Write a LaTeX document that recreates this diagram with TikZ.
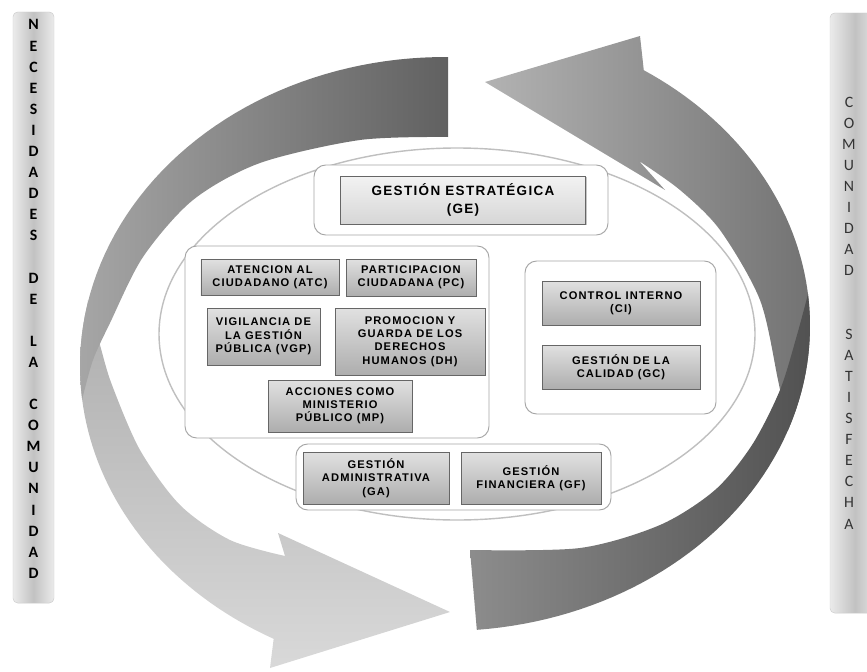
\documentclass[tikz,border=0pt]{standalone}
\usepackage{fontspec}
\usepackage{xcolor}
\usepackage{tikz}
\usetikzlibrary{shadows}

\newfontfamily\boxfont{Liberation Sans}[LetterSpace=10]
\newfontfamily\barfont{Carlito}

\begin{document}
\begin{tikzpicture}[x=0.03cm,y=-0.03cm]

\useasboundingbox (0,0) rectangle (867,672);
\clip (0,0) rectangle (867,672);

% \draw[step=50,gray,very thin] (0,0) grid (867,672);

\tikzstyle{barbox} = [rectangle, rounded corners=4pt, draw=black!20, left color=black!8, right color=black!8, middle color=black!24]
\tikzstyle{bartext} = [align=center, inner sep=0pt, font=\barfont\fontsize{13.5}{18}\selectfont]
\tikzstyle{groupbox} = [rectangle, rounded corners=10pt, draw=black!35, fill=white, thick]
\tikzstyle{unitbox} = [rectangle, draw=black!60, top color=black!12, bottom color=black!32, drop shadow={shadow xshift=1.2pt,shadow yshift=-1.2pt,opacity=0.45}, align=center, inner sep=1pt, font=\boxfont\bfseries\fontsize{9.5}{11.3}\selectfont]

% left arrow: front face with head, then back face
\path[top color=black!32, bottom color=black!15]
  plot[domain=192:118,samples=50] ({445+365*cos(\x)},{366+309*sin(\x)})
  -- (270,668) -- (450,612) -- (278,533)
  -- plot[smooth] coordinates {(285,556) (230,540) (180,505) (140,450) (112,385) (100,345) (88,300)}
  -- cycle;
\path[left color=black!35, right color=black!62]
  plot[domain=270.5:173.7,samples=50] ({445+365*cos(\x)},{366+309*sin(\x)})
  -- plot[smooth] coordinates {(82,400) (93,360) (110,323) (143,257) (193,200) (260,163) (360,140) (448,137)}
  -- cycle;

% right arrow: front face with head, then back face
\path[left color=black!30, right color=black!55]
  plot[domain=20:-57,samples=50] ({445+365*cos(\x)},{326+305*sin(\x)})
  -- (640,36) -- (485,82) -- (665,190)
  -- plot[smooth] coordinates {(639,161) (680,190) (720,230) (760,300) (778,380) (788,430)}
  -- cycle;
\path[left color=black!45, right color=black!68]
  plot[domain=85:-6,samples=50] ({445+365*cos(\x)},{326+305*sin(\x)})
  -- plot[smooth] coordinates {(808,294) (797,335) (780,390) (752,445) (715,490) (660,525) (580,548) (470,550)}
  -- cycle;

\draw[draw=black!25, fill=white, line width=1.2pt] (457,334) ellipse [x radius=298, y radius=186];

% groups
\node (geg) [groupbox, minimum width=8.82cm, minimum height=2.1cm] at (461,200) {};
\node (lgrp) [groupbox, minimum width=9.12cm, minimum height=5.76cm] at (337,342) {};
\node (rgrp) [groupbox, minimum width=5.73cm, minimum height=4.59cm] at (620.5,337.5) {};
\node (bgrp) [groupbox, minimum width=9.45cm, minimum height=1.98cm] at (453.5,477) {};

% units
\node (ge) [unitbox, top color=black!5, bottom color=black!16, minimum width=7.35cm, minimum height=1.44cm, font=\boxfont\bfseries\fontsize{11.5}{15.5}\selectfont] at (463,200) {GESTIÓN ESTRATÉGICA\\(GE)};
\node (atc) [unitbox, minimum width=4.14cm, minimum height=1.08cm] at (270,277) {ATENCION AL\\CIUDADANO (ATC)};
\node (pc) [unitbox, minimum width=3.9cm, minimum height=1.11cm] at (411,277.5) {PARTICIPACION\\CIUDADANA (PC)};
\node (vgp) [unitbox, minimum width=3.39cm, minimum height=1.71cm] at (263.5,336.5) {VIGILANCIA DE\\LA GESTIÓN\\PÚBLICA (VGP)};
\node (dh) [unitbox, minimum width=4.5cm, minimum height=2.01cm] at (410,341.5) {PROMOCION Y\\GUARDA DE LOS\\DERECHOS\\HUMANOS (DH)};
\node (mp) [unitbox, minimum width=4.32cm, minimum height=1.56cm] at (340,406) {ACCIONES COMO\\MINISTERIO\\PÚBLICO (MP)};
\node (ci) [unitbox, minimum width=4.74cm, minimum height=1.32cm] at (621,303) {CONTROL INTERNO\\(CI)};
\node (gc) [unitbox, minimum width=4.74cm, minimum height=1.32cm] at (621,367) {GESTIÓN DE LA\\CALIDAD (GC)};
\node (ga) [unitbox, minimum width=4.38cm, minimum height=1.56cm] at (376,478) {GESTIÓN\\ADMINISTRATIVA\\(GA)};
\node (gf) [unitbox, minimum width=4.2cm, minimum height=1.56cm] at (531,478) {GESTIÓN\\FINANCIERA (GF)};

% side bars
\node (lbar) [barbox, minimum width=1.23cm, minimum height=17.73cm] at (33.5,307.5) {};
\node (ltext) [bartext, font=\barfont\bfseries\fontsize{13.5}{18}\selectfont] at (33.5,299) {N\\E\\C\\E\\S\\I\\D\\A\\D\\E\\S\\[18pt]D\\E\\[18pt]L\\A\\[18pt]C\\O\\M\\U\\N\\I\\D\\A\\D};
\node (rbar) [barbox, minimum width=1.5cm, minimum height=18cm] at (855,313) {};
\node (rtext) [bartext, text=black!80] at (849,313) {C\\O\\M\\U\\N\\I\\D\\A\\D\\[36pt]S\\A\\T\\I\\S\\F\\E\\C\\H\\A};

\end{tikzpicture}
\end{document}
